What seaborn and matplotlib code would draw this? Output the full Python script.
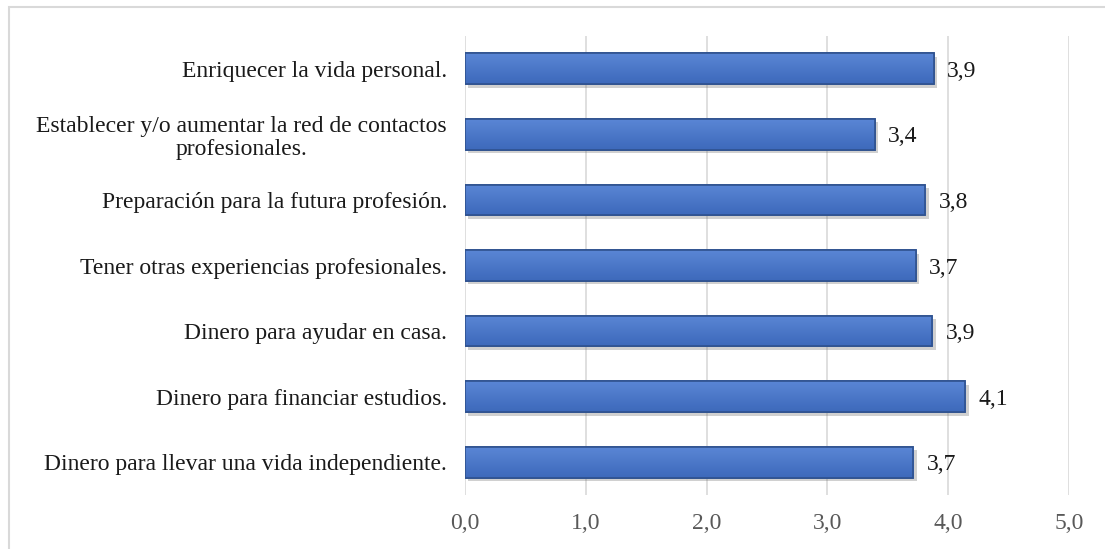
import numpy as np
import pandas as pd
import seaborn as sns
import matplotlib.pyplot as plt
from matplotlib.patches import Rectangle
import matplotlib.patheffects as pe

# data
motivos = [
    "Enriquecer la vida personal.",
    "Establecer y/o aumentar la red de contactos\nprofesionales.",
    "Preparación para la futura profesión.",
    "Tener otras experiencias profesionales.",
    "Dinero para ayudar en casa.",
    "Dinero para financiar estudios.",
    "Dinero para llevar una vida independiente.",
]
medias = [3.88, 3.39, 3.81, 3.73, 3.87, 4.14, 3.71]
ticks = [0, 1, 2, 3, 4, 5]

df = pd.DataFrame({"motivo": motivos, "media": medias})

sns.set_style("white")
plt.rcParams["font.family"] = ["Liberation Serif", "DejaVu Serif"]

fig = plt.figure(figsize=(11.05, 5.49), dpi=100)
ax = fig.add_axes([465 / 1105, 1 - 495 / 549, (1069 - 465) / 1105, 459 / 549])

sns.barplot(data=df, x="media", y="motivo", orient="h", color="#4472C4",
            width=0.47, saturation=1, edgecolor="#2F528F", linewidth=1.2, ax=ax,
            zorder=3)

# gradient fill + soft shadow on each bar
grad = np.linspace(0, 1, 64).reshape(-1, 1)
cmap = sns.blend_palette(["#5A86D5", "#3D69BB"], as_cmap=True)
for p in ax.patches:
    p.set_path_effects([pe.SimplePatchShadow(offset=(2.5, -2.5), alpha=0.3,
                                             shadow_rgbFace="#666666"), pe.Normal()])
    x0, y0, w, h = p.get_x(), p.get_y(), p.get_width(), p.get_height()
    im = ax.imshow(grad, extent=(x0, x0 + w, y0 + h, y0), cmap=cmap,
                   aspect="auto", zorder=3.5)
    im.set_clip_path(p)
    edge = Rectangle((x0, y0), w, h, fill=False, edgecolor="#2F528F",
                     linewidth=1.2, zorder=4)
    ax.add_patch(edge)

for i, v in enumerate(medias):
    ax.text(v + 0.11, i, f"{v:.1f}".replace(".", ","), va="center_baseline",
            ha="left", fontsize=17, color="#1a1a1a", zorder=5)

ax.set_xlim(0, 5)
ax.set_ylim(6.5, -0.5)
ax.set_xticks(ticks)
ax.set_xticklabels([f"{t:.1f}".replace(".", ",") for t in ticks],
                   fontsize=17, color="#595959")
ax.tick_params(axis="x", length=0, pad=13)
ax.tick_params(axis="y", length=0, pad=13, labelsize=17, labelcolor="#1a1a1a")
for lbl in ax.get_yticklabels():
    lbl.set_multialignment("center")
    lbl.set_linespacing(1.15)
ax.set_xlabel("")
ax.set_ylabel("")
ax.xaxis.grid(True, color="#D9D9D9", linewidth=1.2, zorder=0)
ax.set_axisbelow(True)
for s in ax.spines.values():
    s.set_visible(False)

# light frame around the chart area (only top and left edges fall inside the image)
fig.patches.append(Rectangle((9 / 1105, -0.05), 1.1, 1 - 7 / 549 + 0.05,
                             transform=fig.transFigure, fill=False,
                             edgecolor="#D9D9D9", linewidth=1.5))

fig.savefig("out.png", dpi=100)
